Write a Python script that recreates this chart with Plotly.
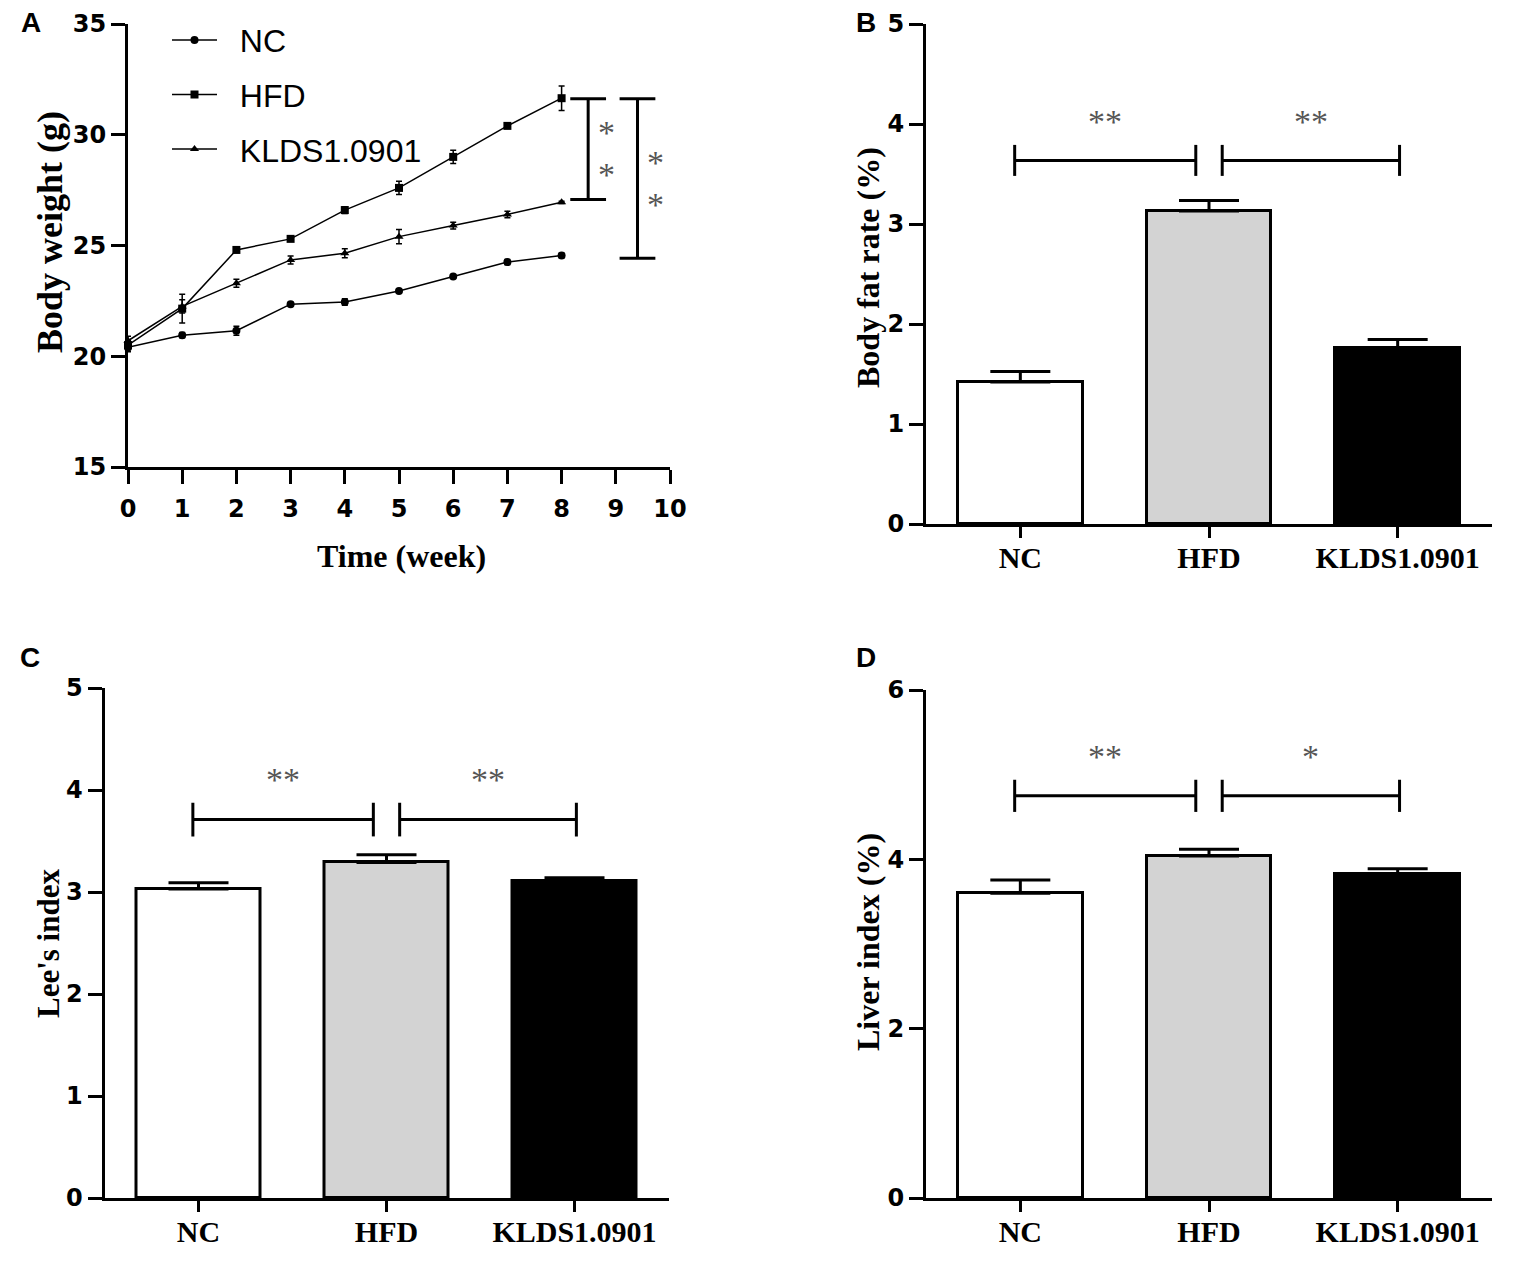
import plotly.graph_objects as go

# ---- data ----
weeks = [0, 1, 2, 3, 4, 5, 6, 7, 8]
nc_weight = [20.4, 20.95, 21.15, 22.35, 22.45, 22.95, 23.6, 24.25, 24.55]
nc_weight_err = [0.2, 0.12, 0.2, 0.08, 0.15, 0.1, 0.08, 0.12, 0.1]
hfd_weight = [20.5, 22.15, 24.8, 25.3, 26.6, 27.6, 29.0, 30.4, 31.65]
hfd_weight_err = [0.2, 0.65, 0.12, 0.1, 0.15, 0.3, 0.3, 0.08, 0.55]
klds_weight = [20.7, 22.25, 23.3, 24.35, 24.65, 25.4, 25.9, 26.4, 26.95]
klds_weight_err = [0.2, 0.3, 0.18, 0.18, 0.2, 0.32, 0.15, 0.15, 0.05]

groups = ["NC", "HFD", "KLDS1.0901"]
bar_fill = ["white", "#d3d3d3", "black"]
body_fat = [1.42, 3.13, 1.765]
body_fat_err = [0.105, 0.105, 0.08]
lees_index = [3.03, 3.29, 3.11]
lees_index_err = [0.06, 0.075, 0.03]
liver_index = [3.60, 4.04, 3.83]
liver_index_err = [0.155, 0.08, 0.06]

# significance brackets: (top, bottom, x, star y) for panel A; (y, half cap, star y, labels) for bars
sig_a = [(31.63, 27.08, 8.49, [30.25, 28.32]), (31.63, 24.42, 9.40, [28.88, 26.96])]
sig_b = (3.636, 0.155, 4.02, ["**", "**"])
sig_c = (3.71, 0.165, 4.10, ["**", "**"])
sig_d = (4.75, 0.19, 5.22, ["**", "*"])

# page is 1535x1268; the browser body keeps an 8px margin, so the figure is 16px smaller
W, H = 1519, 1252


# positions below are page pixels; convert to paper fractions
def px(x):
    return (x - 8) / W


def py(y):
    return 1 - (y - 8) / H


TICKFONT = dict(family="DejaVu Sans", size=24, color="black", weight="bold")
CATFONT = dict(family="Liberation Serif", size=30, color="black", weight="bold")
TITLEFONT = dict(family="Liberation Serif", size=32, color="black", weight="bold")
STARFONT = dict(family="Liberation Serif", size=34, color="#555555")

fig = go.Figure()

# ---- panel A: body weight lines ----
for name, vals, err, sym in [
    ("NC", nc_weight, nc_weight_err, "circle"),
    ("HFD", hfd_weight, hfd_weight_err, "square"),
    ("KLDS1.0901", klds_weight, klds_weight_err, "triangle-up"),
]:
    fig.add_trace(go.Scatter(
        x=weeks, y=vals, name="\u00a0\u00a0" + name, legendgroup=name, mode="lines+markers",
        line=dict(color="black", width=1.5),
        marker=dict(symbol=sym, size=8, color="black"),
        error_y=dict(type="data", array=err, color="black", thickness=1.5, width=3),
        cliponaxis=False, xaxis="x", yaxis="y",
    ))

# ---- panels B, C, D: bars ----
for ax, vals, err in [("2", body_fat, body_fat_err),
                      ("3", lees_index, lees_index_err),
                      ("4", liver_index, liver_index_err)]:
    fig.add_trace(go.Bar(
        x=groups, y=vals, width=0.66, showlegend=False,
        marker=dict(color=bar_fill, line=dict(color="black", width=3)),
        error_y=dict(type="data", array=err, arrayminus=[0, 0, 0], symmetric=False,
                     color="black", thickness=3, width=30),
        xaxis="x" + ax, yaxis="y" + ax,
    ))

axis_common = dict(showline=True, linecolor="black", linewidth=3, ticks="outside",
                   ticklen=14, tickwidth=3, tickcolor="black", showgrid=False,
                   zeroline=False, mirror=False, ticklabeloverflow="allow")
cat_axis = dict(axis_common, ticklen=11, range=[-0.5, 2.5], tickfont=CATFONT,
                ticklabelstandoff=-6)

fig.update_layout(
    width=W, height=H, margin=dict(l=0, r=0, t=0, b=0, autoexpand=False),
    plot_bgcolor="white", paper_bgcolor="white", bargap=0,
    xaxis=dict(domain=[px(128), px(670)], anchor="y", range=[0, 10], tickvals=list(range(11)),
               tickfont=TICKFONT, ticklabelstandoff=4, **axis_common),
    yaxis=dict(domain=[py(467), py(24)], anchor="x", range=[15, 35], dtick=5,
               tickfont=TICKFONT, **axis_common),
    xaxis2=dict(domain=[px(926), px(1492)], anchor="y2", **cat_axis),
    yaxis2=dict(domain=[py(524), py(24)], anchor="x2", range=[0, 5], dtick=1,
                tickfont=TICKFONT, **axis_common),
    xaxis3=dict(domain=[px(104.5), px(668.5)], anchor="y3", **cat_axis),
    yaxis3=dict(domain=[py(1198), py(688)], anchor="x3", range=[0, 5], dtick=1,
                tickfont=TICKFONT, **axis_common),
    xaxis4=dict(domain=[px(926), px(1492)], anchor="y4", **cat_axis),
    yaxis4=dict(domain=[py(1198), py(690)], anchor="x4", range=[0, 6], dtick=2,
                tickfont=TICKFONT, **axis_common),
    legend=dict(x=159 / W, y=1 - 4.6 / H, xanchor="left", yanchor="top",
                font=dict(family="Liberation Sans", size=32, color="black"),
                bgcolor="rgba(0,0,0,0)", tracegroupgap=10, itemwidth=45),
    showlegend=True,
)

shapes = []
annots = []

# panel A brackets
for top, bottom, xc, star_y in sig_a:
    for y0 in (top, bottom):
        shapes.append(dict(type="line", xref="x", yref="y", x0=xc - 0.33, x1=xc + 0.33,
                           y0=y0, y1=y0, line=dict(color="black", width=3)))
    shapes.append(dict(type="line", xref="x", yref="y", x0=xc, x1=xc, y0=top, y1=bottom,
                       line=dict(color="black", width=3)))
    for sy in star_y:
        annots.append(dict(text="*", xref="x", yref="y", x=xc + 0.33, y=sy - 0.13, showarrow=False,
                           font=STARFONT, xanchor="center", yanchor="middle"))

# bar panel brackets
for ax, (yb, cap, ys, labels) in [("2", sig_b), ("3", sig_c), ("4", sig_d)]:
    for (xa, xb), lab in zip([(-0.03, 0.93), (1.07, 2.01)], labels):
        shapes.append(dict(type="line", xref="x" + ax, yref="y" + ax, x0=xa, x1=xb, y0=yb, y1=yb,
                           line=dict(color="black", width=3)))
        for xe in (xa, xb):
            shapes.append(dict(type="line", xref="x" + ax, yref="y" + ax, x0=xe, x1=xe,
                               y0=yb - cap, y1=yb + cap, line=dict(color="black", width=3)))
        annots.append(dict(text=lab, xref="x" + ax, yref="y" + ax, x=(xa + xb) / 2, y=ys,
                           showarrow=False, font=STARFONT))

# panel letters
for letter, lx, ly in [("A", 31, 23), ("B", 866, 23), ("C", 30, 657), ("D", 866, 657)]:
    annots.append(dict(text=letter, xref="paper", yref="paper", x=px(lx), y=py(ly),
                       showarrow=False, xanchor="center", yanchor="middle",
                       font=dict(family="Liberation Sans", size=28, color="black", weight="bold")))

# axis titles
for text, tx, ty, ang, size in [("Body weight (g)", 50, 232, -90, 36), ("Time (week)", 401, 556, 0, 32),
                                ("Body fat rate (%)", 868, 268, -90, 32), ("Lee's index", 48, 944, -90, 31),
                                ("Liver index (%)", 868, 942, -90, 32)]:
    annots.append(dict(text=text, xref="paper", yref="paper", x=px(tx), y=py(ty),
                       showarrow=False, textangle=ang, xanchor="center", yanchor="middle",
                       font=dict(TITLEFONT, size=size)))

fig.update_layout(shapes=shapes, annotations=annots)
fig.write_html("out.html")
